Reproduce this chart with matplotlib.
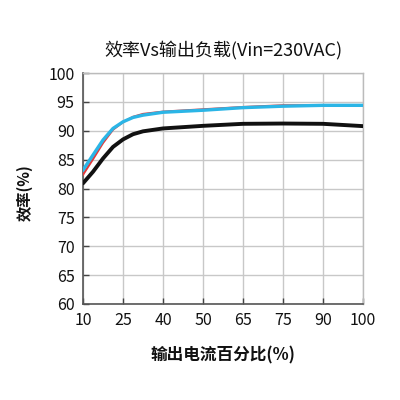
import matplotlib
matplotlib.use("Agg")
import matplotlib.pyplot as plt

plt.rcParams['font.family'] = ['Noto Sans CJK SC', 'DejaVu Sans']

# categorical x axis (load %), equally spaced
x_labels = ['10', '25', '40', '50', '65', '75', '90', '100']
# positions in category-index units, read at quarter/half steps
x_pos = [0, 0.25, 0.5, 0.75, 1, 1.25, 1.5, 2, 3, 4, 5, 6, 7]

eff_cyan = [83.2, 85.8, 88.4, 90.4, 91.55, 92.3, 92.7, 93.2, 93.55, 94.0, 94.25, 94.4, 94.4]
eff_red = [82.4, 85.1, 87.9, 90.2, 91.5, 92.4, 92.9, 93.3, 93.7, 94.1, 94.4, 94.4, 94.4]
eff_black = [80.9, 82.9, 85.2, 87.2, 88.5, 89.4, 89.9, 90.4, 90.85, 91.2, 91.25, 91.2, 90.8]

y_ticks = [60, 65, 70, 75, 80, 85, 90, 95, 100]

fig = plt.figure(figsize=(4, 4), dpi=100)
ax = fig.add_axes([0.2075, 0.24, 0.70, 0.5775])

ax.plot(x_pos, eff_black, color='#111111', lw=2.8, solid_capstyle='round', zorder=3)
ax.plot(x_pos, eff_red, color='#e23a3a', lw=1.6, zorder=4)
ax.plot(x_pos, eff_cyan, color='#2bb5e6', lw=2.4, zorder=5)

ax.set_xlim(0, len(x_labels) - 1)
ax.set_ylim(60, 100)
ax.set_xticks(range(len(x_labels)))
ax.set_xticklabels(x_labels)
ax.set_yticks(y_ticks)
ax.grid(True, color='#c8c8c8', lw=1.0)
ax.set_axisbelow(True)

for s in ['top', 'right']:
    ax.spines[s].set_color('#bbbbbb')
    ax.spines[s].set_linewidth(1.0)
for s in ['left', 'bottom']:
    ax.spines[s].set_color('#555555')
    ax.spines[s].set_linewidth(1.2)

ax.tick_params(axis='both', direction='in', length=4, width=1, color='#444444',
               labelsize=11.5, pad=6, labelcolor='#111111')

ax.set_title('效率Vs输出负载(Vin=230VAC)', fontsize=13, pad=12, color='#111111')
ax.set_xlabel('输出电流百分比(%)', fontsize=12, labelpad=12, fontweight='bold', color='#111111')
ax.set_ylabel('效率(%)', fontsize=11, fontweight='bold', color='#111111')
ax.yaxis.set_label_coords(-0.18, 0.48)

fig.savefig('out.png', dpi=100, facecolor='white')
